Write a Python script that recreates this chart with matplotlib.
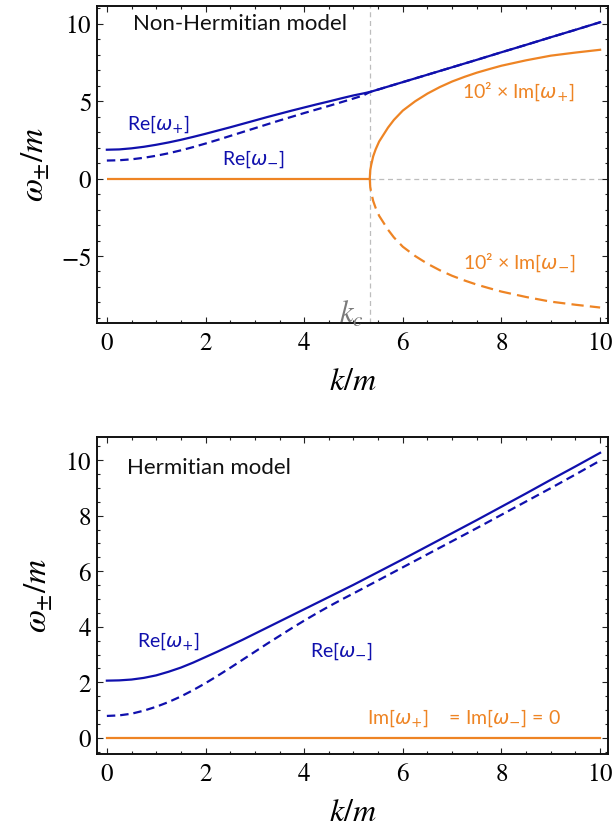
import matplotlib
matplotlib.use("Agg")
import matplotlib.pyplot as plt
from matplotlib.ticker import MultipleLocator, FuncFormatter

# ---- data: non-Hermitian model ----
k_c = 5.33
k_re = [0, 0.25, 0.5, 0.75, 1, 1.25, 1.5, 1.75, 2, 2.25, 2.5, 2.75, 3, 3.25, 3.5,
        3.75, 4, 4.25, 4.5, 4.75, 5, 5.2, 5.33, 5.5, 6, 6.5, 7, 7.5, 8, 8.5, 9,
        9.5, 10]
re_plus_nh = [1.87, 1.89, 1.96, 2.06, 2.19, 2.34, 2.51, 2.70, 2.90, 3.11, 3.32,
              3.54, 3.76, 3.98, 4.19, 4.40, 4.60, 4.80, 4.99, 5.19, 5.38, 5.51,
              5.60, 5.76, 6.24, 6.72, 7.20, 7.68, 8.17, 8.65, 9.14, 9.62, 10.11]
re_minus_nh = [1.17, 1.19, 1.25, 1.35, 1.48, 1.64, 1.83, 2.04, 2.27, 2.51, 2.76,
               3.01, 3.26, 3.51, 3.76, 4.00, 4.24, 4.47, 4.70, 4.94, 5.18, 5.38,
               5.60, 5.76, 6.24, 6.72, 7.20, 7.68, 8.17, 8.65, 9.14, 9.62, 10.11]
k_im = [5.33, 5.34, 5.36, 5.40, 5.45, 5.52, 5.60, 5.70, 5.82, 6.0, 6.25, 6.5, 6.75,
        7.0, 7.25, 7.5, 7.75, 8.0, 8.5, 9.0, 9.5, 10.0]
im_plus_x100 = [0, 0.55, 0.9, 1.45, 1.9, 2.4, 2.8, 3.3, 3.8, 4.4, 5.0, 5.5, 5.92,
                6.28, 6.58, 6.85, 7.08, 7.3, 7.65, 7.95, 8.15, 8.33]
im_minus_x100 = [-v for v in im_plus_x100]

# ---- data: Hermitian model ----
k_h = [0, 0.25, 0.5, 0.75, 1, 1.25, 1.5, 1.75, 2, 2.25, 2.5, 2.75, 3, 3.25, 3.5,
       3.75, 4, 4.25, 4.5, 4.75, 5, 5.5, 6, 6.5, 7, 7.5, 8, 8.5, 9, 9.5, 10]
re_plus_h = [2.06, 2.07, 2.10, 2.16, 2.25, 2.38, 2.53, 2.71, 2.91, 3.11, 3.32,
             3.53, 3.75, 3.97, 4.19, 4.41, 4.63, 4.85, 5.07, 5.29, 5.51, 5.97,
             6.43, 6.90, 7.37, 7.84, 8.32, 8.80, 9.29, 9.77, 10.26]
re_minus_h = [0.79, 0.81, 0.87, 0.98, 1.12, 1.29, 1.49, 1.72, 1.97, 2.24, 2.52,
              2.81, 3.10, 3.39, 3.67, 3.95, 4.22, 4.48, 4.73, 4.97, 5.20, 5.67,
              6.14, 6.61, 7.08, 7.55, 8.03, 8.51, 8.99, 9.48, 9.98]
im_h = [0.0] * len(k_h)

BLUE = "#1010ad"
ORANGE = "#ee8424"
GRAY = "#bdbdbd"
LABEL_FONT = ["Lato", "DejaVu Sans"]

# Times-like digits and italics come from the STIX math fonts
plt.rcParams["mathtext.fontset"] = "stix"

fig = plt.figure(figsize=(6.15, 8.30), dpi=100)
ax1 = fig.add_axes([97 / 615, 1 - 323 / 830, 511 / 615, 317 / 830])
ax2 = fig.add_axes([97 / 615, 1 - 754 / 830, 511 / 615, 317 / 830])

serif_ticks = FuncFormatter(lambda v, pos: r"$\mathrm{%g}$" % v)


def style_axes(ax, ymajor, yminor):
    ax.set_xlim(-0.2, 10.16)
    ax.xaxis.set_major_locator(MultipleLocator(2))
    ax.xaxis.set_minor_locator(MultipleLocator(0.5))
    ax.yaxis.set_major_locator(MultipleLocator(ymajor))
    ax.yaxis.set_minor_locator(MultipleLocator(yminor))
    ax.xaxis.set_major_formatter(serif_ticks)
    ax.yaxis.set_major_formatter(serif_ticks)
    ax.tick_params(which="both", direction="in", top=True, right=True,
                   labelsize=18, width=0.8, color="#222222")
    ax.tick_params(which="major", length=4)
    ax.tick_params(which="minor", length=2.3)
    ax.tick_params(axis="x", pad=6)
    ax.tick_params(axis="y", pad=4)
    for s in ax.spines.values():
        s.set_linewidth(1.4)
        s.set_color("#111111")
    ax.set_xlabel(r"$k/m$", fontsize=23, labelpad=8)
    ax.set_ylabel(r"$\omega_{\pm}/m$", fontsize=24, labelpad=7)


# ---- top: non-Hermitian ----
ax1.set_ylim(-9.33, 11.16)
style_axes(ax1, 5, 1)
ax1.axvline(k_c, color=GRAY, lw=0.9, ls=(0, (4, 3)), zorder=1)
ax1.plot([k_c, 10.16], [0, 0], color=GRAY, lw=0.9, ls=(0, (4, 3)), zorder=1)
ax1.plot([0, k_c], [0, 0], color=ORANGE, lw=1.6, solid_capstyle="butt", zorder=3)
ax1.plot(k_im, im_plus_x100, color=ORANGE, lw=1.6, zorder=3)
ax1.plot(k_im, im_minus_x100, color=ORANGE, lw=1.6, ls=(0, (5.5, 2.8)), zorder=3)
ax1.plot(k_re, re_minus_nh, color=BLUE, lw=1.6, ls=(0, (3.8, 2.2)), zorder=4)
ax1.plot(k_re, re_plus_nh, color=BLUE, lw=1.6, zorder=4)

ax1.text(0.52, 10.0, "Non-Hermitian model", fontsize=16, family=LABEL_FONT,
         color="#111111", va="center", ha="left")
ax1.text(0.41, 3.49, r"Re[$\omega_{+}$]", fontsize=14, family=LABEL_FONT,
         math_fontfamily="dejavusans", color=BLUE, va="center", ha="left")
ax1.text(2.33, 1.23, r"Re[$\omega_{-}$]", fontsize=14, family=LABEL_FONT,
         math_fontfamily="dejavusans", color=BLUE, va="center", ha="left")
ax1.text(7.19, 5.62, "10² × Im[$\\omega_{+}$]", fontsize=14, family=LABEL_FONT,
         math_fontfamily="dejavusans", color=ORANGE, va="center", ha="left")
ax1.text(7.22, -5.41, "10² × Im[$\\omega_{-}$]", fontsize=14, family=LABEL_FONT,
         math_fontfamily="dejavusans", color=ORANGE, va="center", ha="left")
ax1.text(4.95, -8.75, r"$k_c$", fontsize=22, color="#7a7a7a",
         va="center", ha="center")

# ---- bottom: Hermitian ----
ax2.set_ylim(-0.58, 10.83)
style_axes(ax2, 2, 0.5)
ax2.plot(k_h, im_h, color=ORANGE, lw=1.6, zorder=3)
ax2.plot(k_h, re_minus_h, color=BLUE, lw=1.6, ls=(0, (3.8, 2.2)), zorder=4)
ax2.plot(k_h, re_plus_h, color=BLUE, lw=1.6, zorder=4)

ax2.text(0.41, 9.71, "Hermitian model", fontsize=16, family=LABEL_FONT,
         color="#111111", va="center", ha="left")
ax2.text(0.61, 3.49, r"Re[$\omega_{+}$]", fontsize=14, family=LABEL_FONT,
         math_fontfamily="dejavusans", color=BLUE, va="center", ha="left")
ax2.text(4.12, 3.13, r"Re[$\omega_{-}$]", fontsize=14, family=LABEL_FONT,
         math_fontfamily="dejavusans", color=BLUE, va="center", ha="left")
ax2.text(5.27, 0.70, "Im[$\\omega_{+}$]    = Im[$\\omega_{-}$] = 0", fontsize=14,
         family=LABEL_FONT, math_fontfamily="dejavusans", color=ORANGE,
         va="center", ha="left")

fig.savefig("out.png", dpi=100)
